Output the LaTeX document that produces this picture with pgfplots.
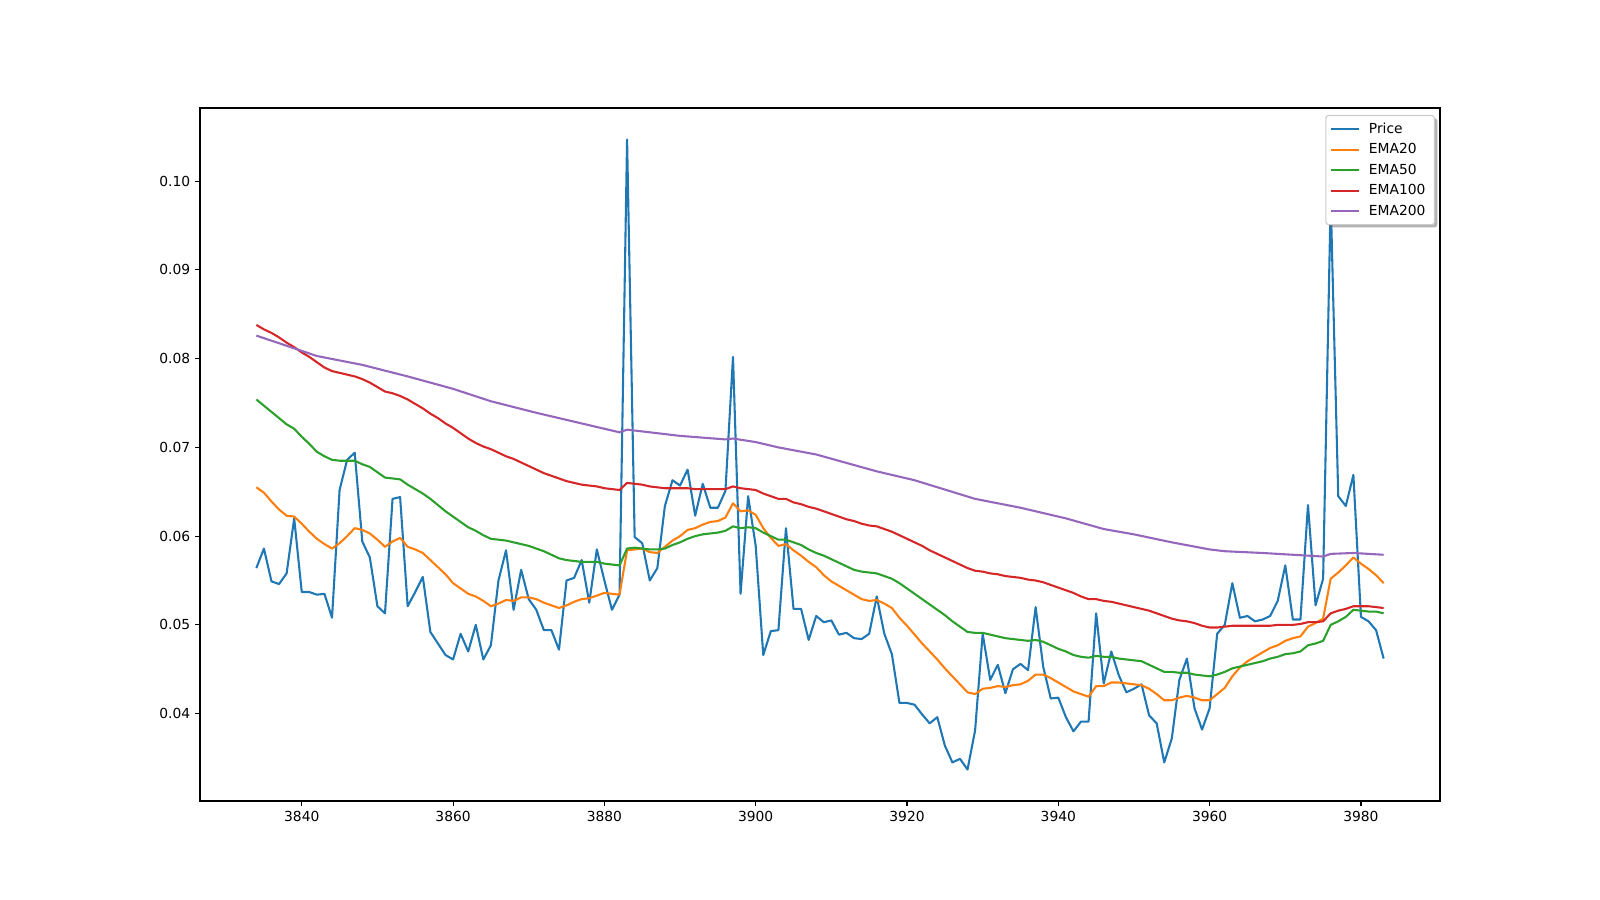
\documentclass[border=0pt]{standalone}
\usepackage{fontspec}
\setmainfont{DejaVu Sans}
\usepackage{pgfplots}
\pgfplotsset{compat=1.18}
\usetikzlibrary{shadows}
\definecolor{c0}{HTML}{1F77B4}
\definecolor{c1}{HTML}{FF7F0E}
\definecolor{c2}{HTML}{2CA02C}
\definecolor{c3}{HTML}{D62728}
\definecolor{c4}{HTML}{9467BD}
\begin{document}
\fontsize{10}{12}\selectfont
\begin{tikzpicture}
\useasboundingbox (-144bp,-71.28bp) rectangle (1008bp,576.72bp);
\begin{axis}[
  at={(0,0)}, anchor=south west,
  scale only axis, width=892.8bp, height=498.96bp,
  xmin=3826.55, xmax=3990.45, ymin=0.03015, ymax=0.10825,
  xtick={3840,3860,3880,3900,3920,3940,3960,3980},
  ytick={0.04,0.05,0.06,0.07,0.08,0.09,0.10},
  xtick pos=lower, ytick pos=left,
  tick align=outside,
  major tick length=3.5bp,
  every tick/.style={black, line width=0.8bp},
  axis line style={line width=0.8bp},
  tick label style={font=\fontsize{10}{12}\selectfont, /pgf/number format/assume math mode=true},
  x tick label style={/pgf/number format/1000 sep={}},
  y tick label style={/pgf/number format/.cd, fixed, fixed zerofill, precision=2},
  legend style={at={(0.996,0.99)}, anchor=north east, draw=black!20, fill=white,
    rounded corners=2bp, line width=0.8bp,
    drop shadow={shadow xshift=2bp, shadow yshift=-2bp, fill=black!60, opacity=0.5},
    font=\fontsize{10}{12}\selectfont, row sep=0bp, inner xsep=3bp, inner ysep=2.5bp,
    nodes={inner ysep=2.9bp, inner xsep=3.5bp},
    /tikz/every odd column/.append style={column sep=3bp}},
  legend cell align=left,
  legend image code/.code={\begin{scope}[#1]\pgfpathmoveto{\pgfpoint{0bp}{0bp}}\pgfpathlineto{\pgfpoint{20bp}{0bp}}\pgfusepath{stroke}\end{scope}},
  every axis plot/.append style={line width=1.5bp, line join=round},
]
\addplot[c0] table {
x y
3834 0.0564
3835 0.0586
3836 0.0549
3837 0.0546
3838 0.0558
3839 0.0620
3840 0.0537
3841 0.0537
3842 0.0534
3843 0.0535
3844 0.0508
3845 0.0652
3846 0.0686
3847 0.0694
3848 0.0594
3849 0.0576
3850 0.0521
3851 0.0513
3852 0.0642
3853 0.0644
3854 0.0521
3855 0.0537
3856 0.0554
3857 0.0492
3858 0.0479
3859 0.0466
3860 0.0461
3861 0.0490
3862 0.0470
3863 0.0500
3864 0.0461
3865 0.0477
3866 0.0550
3867 0.0584
3868 0.0517
3869 0.0562
3870 0.0529
3871 0.0517
3872 0.0494
3873 0.0494
3874 0.0472
3875 0.0550
3876 0.0553
3877 0.0573
3878 0.0525
3879 0.0585
3880 0.0550
3881 0.0517
3882 0.0534
3883 0.1047
3884 0.0599
3885 0.0592
3886 0.0550
3887 0.0564
3888 0.0634
3889 0.0663
3890 0.0657
3891 0.0675
3892 0.0623
3893 0.0659
3894 0.0632
3895 0.0632
3896 0.0651
3897 0.0802
3898 0.0535
3899 0.0645
3900 0.0589
3901 0.0466
3902 0.0493
3903 0.0494
3904 0.0609
3905 0.0518
3906 0.0518
3907 0.0483
3908 0.0510
3909 0.0503
3910 0.0505
3911 0.0489
3912 0.0491
3913 0.0485
3914 0.0484
3915 0.0490
3916 0.0532
3917 0.0490
3918 0.0467
3919 0.0412
3920 0.0412
3921 0.0410
3922 0.0399
3923 0.0389
3924 0.0396
3925 0.0364
3926 0.0345
3927 0.0349
3928 0.0337
3929 0.0381
3930 0.0490
3931 0.0438
3932 0.0455
3933 0.0423
3934 0.0450
3935 0.0456
3936 0.0449
3937 0.0520
3938 0.0453
3939 0.0417
3940 0.0418
3941 0.0396
3942 0.0380
3943 0.0391
3944 0.0391
3945 0.0513
3946 0.0434
3947 0.0470
3948 0.0443
3949 0.0424
3950 0.0428
3951 0.0433
3952 0.0398
3953 0.0389
3954 0.0345
3955 0.0372
3956 0.0438
3957 0.0462
3958 0.0406
3959 0.0382
3960 0.0406
3961 0.0490
3962 0.0500
3963 0.0547
3964 0.0508
3965 0.0510
3966 0.0504
3967 0.0506
3968 0.0510
3969 0.0527
3970 0.0567
3971 0.0506
3972 0.0506
3973 0.0635
3974 0.0522
3975 0.0552
3976 0.0980
3977 0.0645
3978 0.0634
3979 0.0669
3980 0.0509
3981 0.0504
3982 0.0494
3983 0.0462
};
\addlegendentry{Price}
\addplot[c1] table {
x y
3834 0.0655
3835 0.0649
3836 0.0639
3837 0.0630
3838 0.0623
3839 0.0622
3840 0.0614
3841 0.0605
3842 0.0597
3843 0.0591
3844 0.0586
3845 0.0592
3846 0.0600
3847 0.0609
3848 0.0607
3849 0.0603
3850 0.0596
3851 0.0588
3852 0.0594
3853 0.0598
3854 0.0588
3855 0.0585
3856 0.0581
3857 0.0573
3858 0.0565
3859 0.0557
3860 0.0547
3861 0.0541
3862 0.0535
3863 0.0532
3864 0.0527
3865 0.0521
3866 0.0524
3867 0.0528
3868 0.0527
3869 0.0531
3870 0.0531
3871 0.0529
3872 0.0525
3873 0.0522
3874 0.0519
3875 0.0522
3876 0.0526
3877 0.0529
3878 0.0530
3879 0.0533
3880 0.0536
3881 0.0535
3882 0.0534
3883 0.0584
3884 0.0585
3885 0.0586
3886 0.0582
3887 0.0581
3888 0.0588
3889 0.0595
3890 0.0600
3891 0.0607
3892 0.0609
3893 0.0613
3894 0.0616
3895 0.0617
3896 0.0621
3897 0.0637
3898 0.0628
3899 0.0629
3900 0.0624
3901 0.0609
3902 0.0598
3903 0.0589
3904 0.0591
3905 0.0584
3906 0.0578
3907 0.0571
3908 0.0565
3909 0.0556
3910 0.0549
3911 0.0544
3912 0.0539
3913 0.0534
3914 0.0529
3915 0.0527
3916 0.0528
3917 0.0524
3918 0.0519
3919 0.0508
3920 0.0499
3921 0.0489
3922 0.0479
3923 0.0470
3924 0.0461
3925 0.0451
3926 0.0442
3927 0.0433
3928 0.0424
3929 0.0422
3930 0.0428
3931 0.0429
3932 0.0431
3933 0.0430
3934 0.0432
3935 0.0433
3936 0.0437
3937 0.0444
3938 0.0444
3939 0.0440
3940 0.0435
3941 0.0430
3942 0.0425
3943 0.0422
3944 0.0419
3945 0.0431
3946 0.0431
3947 0.0435
3948 0.0435
3949 0.0434
3950 0.0433
3951 0.0432
3952 0.0428
3953 0.0422
3954 0.0415
3955 0.0415
3956 0.0418
3957 0.0420
3958 0.0418
3959 0.0415
3960 0.0415
3961 0.0422
3962 0.0429
3963 0.0442
3964 0.0452
3965 0.0459
3966 0.0464
3967 0.0469
3968 0.0474
3969 0.0477
3970 0.0482
3971 0.0485
3972 0.0487
3973 0.0498
3974 0.0502
3975 0.0507
3976 0.0552
3977 0.0559
3978 0.0567
3979 0.0576
3980 0.0569
3981 0.0563
3982 0.0556
3983 0.0547
};
\addlegendentry{EMA20}
\addplot[c2] table {
x y
3834 0.0754
3835 0.0747
3836 0.0740
3837 0.0733
3838 0.0726
3839 0.0721
3840 0.0712
3841 0.0704
3842 0.0695
3843 0.0690
3844 0.0686
3845 0.0685
3846 0.0685
3847 0.0685
3848 0.0681
3849 0.0678
3850 0.0672
3851 0.0666
3852 0.0665
3853 0.0664
3854 0.0658
3855 0.0653
3856 0.0648
3857 0.0642
3858 0.0635
3859 0.0628
3860 0.0622
3861 0.0616
3862 0.0610
3863 0.0606
3864 0.0601
3865 0.0597
3866 0.0596
3867 0.0595
3868 0.0593
3869 0.0591
3870 0.0589
3871 0.0586
3872 0.0583
3873 0.0579
3874 0.0575
3875 0.0573
3876 0.0572
3877 0.0571
3878 0.0571
3879 0.0571
3880 0.0569
3881 0.0568
3882 0.0567
3883 0.0586
3884 0.0587
3885 0.0586
3886 0.0585
3887 0.0585
3888 0.0586
3889 0.0590
3890 0.0593
3891 0.0597
3892 0.0600
3893 0.0602
3894 0.0603
3895 0.0604
3896 0.0606
3897 0.0611
3898 0.0609
3899 0.0610
3900 0.0609
3901 0.0604
3902 0.0600
3903 0.0596
3904 0.0596
3905 0.0593
3906 0.0590
3907 0.0585
3908 0.0581
3909 0.0578
3910 0.0574
3911 0.0570
3912 0.0566
3913 0.0562
3914 0.0560
3915 0.0559
3916 0.0558
3917 0.0555
3918 0.0552
3919 0.0547
3920 0.0541
3921 0.0535
3922 0.0529
3923 0.0523
3924 0.0517
3925 0.0511
3926 0.0504
3927 0.0498
3928 0.0492
3929 0.0491
3930 0.0491
3931 0.0489
3932 0.0487
3933 0.0485
3934 0.0484
3935 0.0483
3936 0.0482
3937 0.0483
3938 0.0481
3939 0.0477
3940 0.0473
3941 0.0470
3942 0.0466
3943 0.0464
3944 0.0463
3945 0.0465
3946 0.0464
3947 0.0464
3948 0.0462
3949 0.0461
3950 0.0460
3951 0.0459
3952 0.0455
3953 0.0451
3954 0.0447
3955 0.0447
3956 0.0446
3957 0.0446
3958 0.0444
3959 0.0443
3960 0.0442
3961 0.0444
3962 0.0447
3963 0.0451
3964 0.0453
3965 0.0455
3966 0.0457
3967 0.0459
3968 0.0462
3969 0.0464
3970 0.0467
3971 0.0468
3972 0.0470
3973 0.0477
3974 0.0479
3975 0.0482
3976 0.0500
3977 0.0504
3978 0.0509
3979 0.0517
3980 0.0516
3981 0.0515
3982 0.0515
3983 0.0513
};
\addlegendentry{EMA50}
\addplot[c3] table {
x y
3834 0.0838
3835 0.0833
3836 0.0829
3837 0.0824
3838 0.0818
3839 0.0813
3840 0.0807
3841 0.0802
3842 0.0796
3843 0.0790
3844 0.0786
3845 0.0784
3846 0.0782
3847 0.0780
3848 0.0777
3849 0.0773
3850 0.0768
3851 0.0763
3852 0.0761
3853 0.0758
3854 0.0754
3855 0.0749
3856 0.0744
3857 0.0738
3858 0.0733
3859 0.0727
3860 0.0722
3861 0.0716
3862 0.0710
3863 0.0705
3864 0.0701
3865 0.0698
3866 0.0694
3867 0.0690
3868 0.0687
3869 0.0683
3870 0.0679
3871 0.0675
3872 0.0671
3873 0.0668
3874 0.0665
3875 0.0662
3876 0.0660
3877 0.0658
3878 0.0657
3879 0.0656
3880 0.0654
3881 0.0653
3882 0.0652
3883 0.0660
3884 0.0659
3885 0.0658
3886 0.0656
3887 0.0655
3888 0.0654
3889 0.0654
3890 0.0654
3891 0.0654
3892 0.0653
3893 0.0653
3894 0.0653
3895 0.0653
3896 0.0653
3897 0.0656
3898 0.0654
3899 0.0653
3900 0.0652
3901 0.0648
3902 0.0645
3903 0.0642
3904 0.0642
3905 0.0638
3906 0.0636
3907 0.0633
3908 0.0631
3909 0.0628
3910 0.0625
3911 0.0622
3912 0.0619
3913 0.0617
3914 0.0614
3915 0.0612
3916 0.0611
3917 0.0608
3918 0.0605
3919 0.0601
3920 0.0597
3921 0.0593
3922 0.0589
3923 0.0584
3924 0.0580
3925 0.0576
3926 0.0572
3927 0.0568
3928 0.0564
3929 0.0561
3930 0.0560
3931 0.0558
3932 0.0557
3933 0.0555
3934 0.0554
3935 0.0553
3936 0.0551
3937 0.0550
3938 0.0548
3939 0.0545
3940 0.0542
3941 0.0539
3942 0.0536
3943 0.0532
3944 0.0529
3945 0.0529
3946 0.0527
3947 0.0526
3948 0.0524
3949 0.0522
3950 0.0520
3951 0.0518
3952 0.0516
3953 0.0513
3954 0.0510
3955 0.0507
3956 0.0505
3957 0.0504
3958 0.0502
3959 0.0499
3960 0.0497
3961 0.0497
3962 0.0498
3963 0.0499
3964 0.0499
3965 0.0499
3966 0.0499
3967 0.0499
3968 0.0499
3969 0.0500
3970 0.0500
3971 0.0500
3972 0.0501
3973 0.0503
3974 0.0503
3975 0.0504
3976 0.0513
3977 0.0516
3978 0.0518
3979 0.0521
3980 0.0521
3981 0.0521
3982 0.0520
3983 0.0519
};
\addlegendentry{EMA100}
\addplot[c4] table {
x y
3834 0.0826
3842 0.0803
3845 0.0798
3848 0.0793
3854 0.0780
3860 0.0766
3865 0.0752
3871 0.0739
3875 0.0731
3882 0.0717
3883 0.0720
3890 0.0713
3896 0.0709
3897 0.0710
3900 0.0706
3903 0.0700
3908 0.0692
3916 0.0673
3921 0.0663
3929 0.0642
3935 0.0632
3941 0.0620
3946 0.0608
3950 0.0602
3955 0.0593
3960 0.0585
3962 0.0583
3967 0.0581
3975 0.0577
3976 0.0580
3979 0.0581
3983 0.0579
};
\addlegendentry{EMA200}
\end{axis}
\end{tikzpicture}
\end{document}
